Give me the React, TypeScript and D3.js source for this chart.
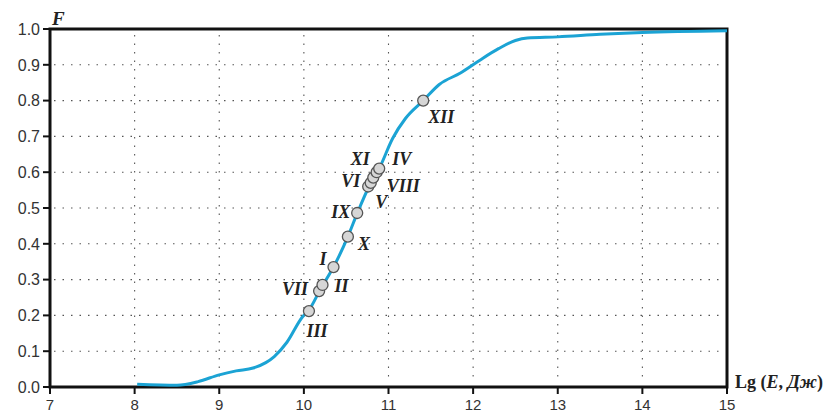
import React from 'react';
import * as d3 from 'd3';

const curveLgE = [8.03, 8.5, 8.75, 9.0, 9.2, 9.4, 9.55, 9.65, 9.8, 9.98, 10.06, 10.2, 10.35, 10.52, 10.63, 10.78, 10.89, 11.05, 11.2, 11.41, 11.6, 11.85, 12.08, 12.3, 12.5, 12.64, 13.0, 13.5, 14.0, 15.0];
const curveF = [0.008, 0.005, 0.015, 0.034, 0.045, 0.053, 0.068, 0.085, 0.125, 0.195, 0.215, 0.275, 0.335, 0.42, 0.485, 0.565, 0.61, 0.695, 0.75, 0.8, 0.845, 0.877, 0.913, 0.945, 0.968, 0.975, 0.978, 0.985, 0.99, 0.995];

// marked months
const pointNames = ['III', 'VII', 'II', 'I', 'X', 'IX', 'V', 'VIII', 'VI', 'XI', 'IV', 'XII'];
const pointLgE = [10.06, 10.18, 10.22, 10.35, 10.52, 10.63, 10.76, 10.79, 10.82, 10.86, 10.89, 11.41];
const pointF = [0.212, 0.268, 0.285, 0.335, 0.42, 0.486, 0.56, 0.57, 0.585, 0.6, 0.61, 0.8];

const xTicks = [7, 8, 9, 10, 11, 12, 13, 14, 15];
const yTicks = [0, 0.1, 0.2, 0.3, 0.4, 0.5, 0.6, 0.7, 0.8, 0.9, 1.0];

// label placement: [dx, dy, anchor]
const labelPlace: [number, number, string][] = [
  [8, 26, 'middle'],
  [-11, 4, 'end'],
  [12, 7, 'start'],
  [-7, -2, 'end'],
  [10, 13, 'start'],
  [-7, 5, 'end'],
  [7, 21, 'start'],
  [16, 9, 'start'],
  [-13, 9, 'end'],
  [-7, -7, 'end'],
  [13, -4, 'start'],
  [5, 22, 'start'],
];

const W = 838;
const H = 414;
const margin = { left: 50, right: 111, top: 29, bottom: 27 };

export default function App() {
  const x = d3.scaleLinear().domain([7, 15]).range([margin.left, W - margin.right]);
  const y = d3.scaleLinear().domain([0, 1]).range([H - margin.bottom, margin.top]);

  const line = d3.line<number>()
    .x((_, i) => x(curveLgE[i]))
    .y((_, i) => y(curveF[i]))
    .curve(d3.curveMonotoneX);

  const x0 = x(7), x1 = x(15), y0 = y(0), y1 = y(1);
  const serif = '"Liberation Serif", "Times New Roman", serif';
  const sans = '"Liberation Sans", Arial, sans-serif';

  return (
    <svg width={W} height={H} style={{ position: 'absolute', left: 0, top: 0, background: '#fff' }}>
      {/* grid */}
      <g stroke="#555" strokeWidth={1.1} strokeDasharray="1.5 7">
        {yTicks.filter(t => t > 0 && t < 1).map(t => (
          <line key={'gy' + t} x1={x0 + 4} x2={x1 - 4} y1={y(t)} y2={y(t)} />
        ))}
        {xTicks.filter(t => t > 7 && t < 15).map(t => (
          <line key={'gx' + t} x1={x(t)} x2={x(t)} y1={y1 + 6} y2={y0 - 4} />
        ))}
      </g>

      {/* ticks */}
      <g stroke="#111" strokeWidth={2}>
        {yTicks.map(t => (
          <line key={'ty' + t} x1={x0 - 7} x2={x0} y1={y(t)} y2={y(t)} />
        ))}
        {xTicks.map(t => (
          <line key={'tx' + t} x1={x(t)} x2={x(t)} y1={y0} y2={y0 + 7} />
        ))}
      </g>

      {/* tick labels */}
      <g fontFamily={sans} fill="#333">
        {yTicks.map(t => (
          <text key={'ly' + t} x={x0 - 10} y={y(t)} dy="0.36em" textAnchor="end" fontSize={16}>{t.toFixed(1)}</text>
        ))}
        {xTicks.map(t => (
          <text key={'lx' + t} x={x(t)} y={410} textAnchor="middle" fontSize={15}>{t}</text>
        ))}
      </g>

      {/* frame */}
      <rect x={x0} y={y1} width={x1 - x0} height={y0 - y1} fill="none" stroke="#111" strokeWidth={3} />

      {/* curve */}
      <path d={line(curveLgE) || ''} fill="none" stroke="#1ba3d4" strokeWidth={3} strokeLinejoin="round" />

      {/* points */}
      {pointNames.map((n, i) => (
        <circle key={'p' + n} cx={x(pointLgE[i])} cy={y(pointF[i])} r={5.5} fill="#d6d6d6" stroke="#555" strokeWidth={1.3} />
      ))}
      <g fontFamily={serif} fontSize={18} fontWeight="bold" fontStyle="italic" fill="#222">
        {pointNames.map((n, i) => (
          <text key={'n' + n} x={x(pointLgE[i]) + labelPlace[i][0]} y={y(pointF[i]) + labelPlace[i][1]} textAnchor={labelPlace[i][2]}>{n}</text>
        ))}
      </g>

      {/* axis titles */}
      <text x={x0 + 2} y={25} fontFamily={serif} fontSize={19} fontWeight="bold" fontStyle="italic" fill="#222">F</text>
      <text x={x1 + 8} y={y0 + 1} fontFamily={serif} fontSize={18} fontWeight="bold" fill="#222">
        Lg (<tspan fontStyle="italic">E</tspan>, <tspan fontStyle="italic">Дж</tspan>)
      </text>
    </svg>
  );
}
